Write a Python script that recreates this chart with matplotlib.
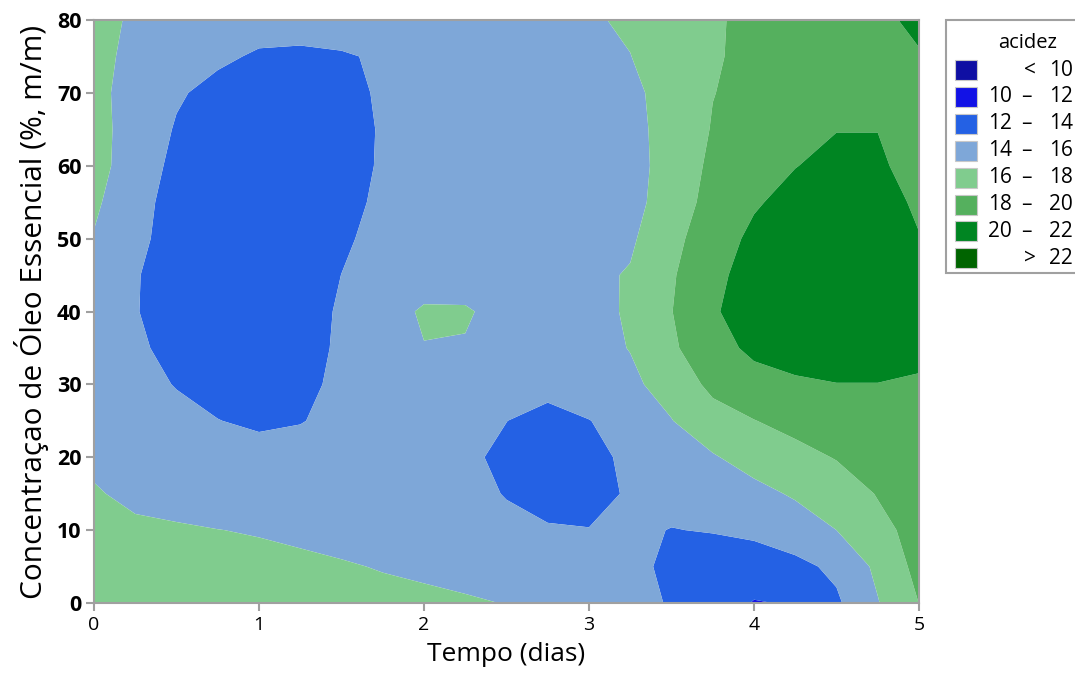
import numpy as np
import matplotlib
matplotlib.use('Agg')
import matplotlib.pyplot as plt
from matplotlib.patches import Rectangle

plt.rcParams['font.family'] = ['Open Sans', 'DejaVu Sans']

# grid of the response surface (tempo in dias, concentracao in %)
tempo = [0, 0.25, 0.5, 0.75, 1.0, 1.25, 1.5, 1.75, 2.0, 2.25, 2.5,
         2.75, 3.0, 3.25, 3.5, 3.75, 4.0, 4.25, 4.5, 4.75, 5.0]
concentracao = [0, 5, 10, 15, 20, 25, 30, 35, 40, 45, 50, 55, 60, 65, 70, 75, 80]

# acidez, one row per concentracao
acidez = [
    [17.0, 16.95, 16.9, 16.85, 16.8, 16.7, 16.6, 16.5, 16.35, 16.2, 15.95, 15.5, 15.2, 14.8, 13.8, 12.8, 11.92, 12.1, 13.7, 15.9, 18.02],
    [16.8, 16.7, 16.6, 16.5, 16.4, 16.3, 16.15, 15.9, 15.7, 15.4, 14.9, 14.7, 14.6, 14.5, 13.6, 13.0, 12.8, 13.5, 14.4, 16.4, 18.6],
    [16.6, 16.4, 16.2, 16.02, 15.9, 15.7, 15.4, 15.2, 15.0, 14.8, 14.5, 14.2, 14.05, 14.3, 13.95, 14.1, 14.5, 15.1, 16.0, 17.5, 18.6],
    [16.2, 15.5, 15.3, 15.2, 15.2, 15.15, 15.1, 15.0, 14.9, 14.6, 13.9, 13.2, 13.4, 14.2, 14.6, 15.0, 15.5, 16.2, 17.0, 18.1, 18.7],
    [15.55, 15.2, 15.0, 14.9, 14.9, 14.9, 14.9, 14.85, 14.7, 14.35, 13.6, 13.0, 13.3, 14.5, 15.2, 15.85, 16.7, 17.4, 18.1, 18.7, 19.0],
    [15.2, 15.0, 14.6, 14.05, 13.6, 13.9, 14.6, 14.9, 15.0, 14.8, 14.02, 13.3, 13.95, 14.8, 15.95, 17.1, 17.95, 18.6, 19.0, 19.2, 19.3],
    [15.0, 14.7, 13.9, 13.2, 12.9, 13.3, 14.6, 15.1, 15.5, 15.5, 15.2, 14.7, 15.2, 15.7, 16.6, 18.54, 19.3, 19.7, 19.95, 19.95, 19.6],
    [14.9, 14.4, 13.3, 12.8, 12.6, 13.0, 14.4, 15.2, 15.95, 15.9, 15.5, 15.4, 15.5, 16.05, 17.7, 19.3, 20.4, 20.9, 21.1, 21.1, 20.9],
    [15.0, 14.1, 13.1, 12.6, 12.4, 12.9, 14.3, 15.3, 16.2, 16.15, 15.5, 15.5, 15.6, 16.15, 17.95, 19.8, 20.9, 21.4, 21.6, 21.5, 21.2],
    [15.4, 14.15, 13.0, 12.5, 12.3, 12.6, 14.02, 14.9, 15.2, 15.3, 15.3, 15.4, 15.6, 16.14, 17.8, 19.5, 20.8, 21.2, 21.4, 21.3, 21.0],
    [15.9, 14.6, 13.0, 12.6, 12.4, 12.5, 13.6, 14.8, 14.9, 15.0, 15.1, 15.2, 15.4, 15.72, 17.45, 19.1, 20.4, 20.9, 21.1, 20.8, 20.05],
    [16.3, 14.75, 13.2, 12.8, 12.5, 12.5, 13.2, 14.5, 14.7, 14.85, 15.0, 15.15, 15.35, 15.7, 16.45, 19.0, 19.8, 20.6, 20.8, 20.5, 19.8],
    [16.5, 15.3, 13.4, 13.0, 12.7, 12.6, 12.9, 14.3, 14.55, 14.8, 15.0, 15.15, 15.35, 15.7, 16.33, 18.53, 19.4, 19.95, 20.5, 20.2, 19.5],
    [16.65, 15.2, 13.85, 13.3, 13.0, 12.9, 13.1, 14.2, 14.6, 14.85, 15.0, 15.2, 15.4, 15.7, 16.38, 18.14, 18.8, 19.3, 19.95, 19.98, 19.6],
    [16.7, 15.0, 14.2, 13.5, 13.2, 13.1, 13.3, 14.3, 14.7, 14.9, 15.1, 15.3, 15.5, 15.75, 16.44, 17.95, 18.6, 19.0, 19.4, 19.6, 19.7],
    [16.8, 15.3, 14.8, 14.3, 13.8, 13.7, 13.85, 14.2, 14.8, 15.0, 15.2, 15.4, 15.6, 15.97, 16.9, 17.8, 18.5, 19.0, 19.4, 19.7, 19.9],
    [16.9, 15.6, 15.0, 14.8, 14.7, 14.7, 14.8, 14.9, 15.0, 15.2, 15.4, 15.6, 15.8, 16.25, 17.0, 17.8, 18.4, 18.9, 19.3, 19.7, 20.3],
]

niveis = [10, 12, 14, 16, 18, 20, 22]
cores = ['#0F0FA3', '#1212E6', '#2461E4', '#7EA7D8',
         '#80CC8E', '#55B05E', '#008522', '#006400']
rotulos = [('<', '10'), ('10', '12'), ('12', '14'), ('14', '16'),
           ('16', '18'), ('18', '20'), ('20', '22'), ('>', '22')]

W, H = 1075, 677
fig = plt.figure(figsize=(W / 100, H / 100), dpi=100)
ax = fig.add_axes([94 / W, 1 - 603 / H, 825 / W, 583 / H])

ax.contourf(tempo, concentracao, np.array(acidez),
            levels=[0] + niveis + [100], colors=cores, antialiased=True)

ax.set_xlim(0, 5)
ax.set_ylim(0, 80)
ax.set_xticks(range(0, 6))
ax.set_yticks(range(0, 81, 10))
for s in ax.spines.values():
    s.set_color('#A0A0A0')
    s.set_linewidth(1.5)
ax.tick_params(colors='#A0A0A0', labelcolor='black', labelsize=14,
               length=6, width=1.5, pad=3)
for t in ax.get_yticklabels():
    t.set_fontweight('bold')
    t.set_fontsize(15.5)
ax.set_xlabel('Tempo (dias)', fontsize=19, labelpad=6)
ax.set_ylabel('Concentraçao de Óleo Essencial (%, m/m)', fontsize=21.5, labelpad=6)


# legend drawn by hand so the numbers line up like the original
def fx(px):
    return px / W


def fy(py):
    return 1 - py / H


fig.add_artist(Rectangle((fx(946), fy(273)), fx(1090) - fx(946), fy(20) - fy(273),
                         transform=fig.transFigure, facecolor='white',
                         edgecolor='#A0A0A0', linewidth=1.5))
fs = 15
fig.text(fx(1028), fy(43), 'acidez', ha='center', va='center', fontsize=14.5)
for i, (cor, (a, b)) in enumerate(zip(cores, rotulos)):
    yc = 70 + 26.9 * i
    fig.add_artist(Rectangle((fx(955), fy(yc + 10)), fx(977) - fx(955), fy(yc - 10) - fy(yc + 10),
                             transform=fig.transFigure, facecolor=cor,
                             edgecolor='#C8C8C8', linewidth=0.8))
    if a in ('<', '>'):
        fig.text(fx(1030), fy(yc), a, ha='center', va='center', fontsize=fs)
    else:
        fig.text(fx(1012), fy(yc), a, ha='right', va='center', fontsize=fs)
        fig.text(fx(1026), fy(yc), '–', ha='center', va='center', fontsize=fs)
    fig.text(fx(1073), fy(yc), b, ha='right', va='center', fontsize=fs)

fig.savefig('out.png', dpi=100)
